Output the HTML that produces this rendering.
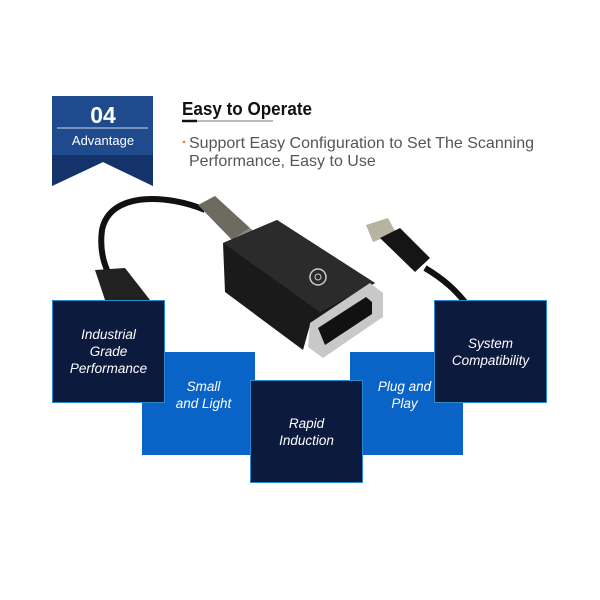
<!DOCTYPE html>
<html><head><style>
body{margin:0;width:600px;height:600px;background:#fff;overflow:hidden;position:relative;font-family:"Liberation Sans",sans-serif}
.b{position:absolute;width:113px;height:103px;color:#fff;font-style:italic;font-size:13.5px;line-height:17px;display:flex;align-items:center;justify-content:center;text-align:center;box-sizing:border-box}
.d{background:#0b1a3d;border:1px solid #2a8ad0}
.l{background:#0a63c6}
</style></head><body>
<svg width="600" height="600" style="position:absolute;left:0;top:0">
<polygon points="52,96 153,96 153,186 103,162 52,186" fill="#1f4b8e"/>
<polygon points="52,155 153,155 153,186 103,162 52,186" fill="#15336b"/>
<line x1="57" y1="128" x2="148" y2="128" stroke="#c8d4e8" stroke-width="1"/>
<text x="103" y="123" fill="#fff" font-size="23" font-weight="bold" text-anchor="middle" font-family="Liberation Sans">04</text>
<text x="103" y="145" fill="#fff" font-size="13" text-anchor="middle" font-family="Liberation Sans">Advantage</text>
<text x="182" y="115" fill="#111" font-size="18" font-weight="bold" font-family="Liberation Sans" textLength="130" lengthAdjust="spacingAndGlyphs">Easy to Operate</text>
<line x1="182" y1="121" x2="273" y2="121" stroke="#777" stroke-width="1"/>
<line x1="182" y1="121" x2="197" y2="121" stroke="#111" stroke-width="2.5"/>
<circle cx="184" cy="142" r="1.3" fill="#e07a3a"/>
<text x="189" y="148" fill="#555" font-size="16" font-family="Liberation Sans" textLength="345" lengthAdjust="spacingAndGlyphs">Support Easy Configuration to Set The Scanning</text>
<text x="189" y="166" fill="#555" font-size="16" font-family="Liberation Sans">Performance, Easy to Use</text>
<path d="M205,210 C170,195 110,190 102,230 C98,260 110,275 120,300" stroke="#111" stroke-width="6" fill="none"/>
<polygon points="95,270 125,268 150,300 105,300" fill="#222"/>
<polygon points="198,205 215,196 250,228 232,240" fill="#6d6a60"/>
<polygon points="232,240 250,228 262,238 244,250" fill="#8a877d"/>
<path d="M425,268 C445,280 455,290 465,302" stroke="#111" stroke-width="6" fill="none"/>
<polygon points="366,225 388,218 396,233 373,242" fill="#b8b2a0"/>
<polygon points="380,238 400,228 430,258 415,272" fill="#151515"/>
<polygon points="223,243 277,220 375,283 310,325 303,350 225,292" fill="#1a1a1a"/>
<polygon points="223,243 277,220 375,283 320,312" fill="#2b2b2b"/>
<polygon points="310,323 370,283 383,293 383,317 323,358 308,347" fill="#c8c8c8"/>
<polygon points="318,328 366,297 372,302 372,314 325,345" fill="#111"/>
<circle cx="318" cy="277" r="8" fill="none" stroke="#ccc" stroke-width="1.5"/>
<circle cx="318" cy="277" r="3" fill="none" stroke="#ccc" stroke-width="1"/>
</svg>
<div class="b l" style="left:142px;top:352px;padding-left:10px;padding-bottom:18px">Small<br>and Light</div>
<div class="b l" style="left:350px;top:352px;padding-right:4px;padding-bottom:18px">Plug and<br>Play</div>
<div class="b d" style="left:52px;top:300px">Industrial<br>Grade<br>Performance</div>
<div class="b d" style="left:434px;top:300px">System<br>Compatibility</div>
<div class="b d" style="left:250px;top:380px">Rapid<br>Induction</div>
</body></html>
